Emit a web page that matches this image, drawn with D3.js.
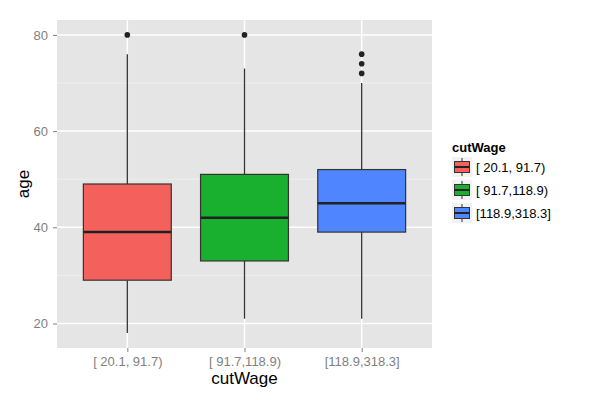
<!DOCTYPE html>
<html>
<head>
<meta charset="utf-8">
<script src="https://cdn.jsdelivr.net/npm/d3@7"></script>
<style>
  body { margin: 0; background: #fff; }
  svg { font-family: "Liberation Sans", Arial, sans-serif; }
</style>
</head>
<body>
<div id="chart"></div>
<script>
// values
const categories = ['[ 20.1, 91.7)', '[ 91.7,118.9)', '[118.9,318.3]'];
const whiskerLow = [18, 21, 21];
const q1 = [29, 33, 39];
const median = [39, 42, 45];
const q3 = [49, 51, 52];
const whiskerHigh = [76, 73, 70];
const outliers = [[80], [80], [72, 74, 76]];
const yTicks = [20, 40, 60, 80];
const yMinor = [30, 50, 70];
const colors = ['#F4605B', '#19B030', '#4F86FF'];

const width = 600, height = 400;
const panel = { left: 57, right: 432, top: 20, bottom: 348 };

const svg = d3.select('#chart')
  .append('svg')
  .attr('width', width)
  .attr('height', height);

const x = d3.scalePoint()
  .domain(categories)
  .range([panel.left, panel.right])
  .padding(0.6);

const y = d3.scaleLinear()
  .domain([14.9, 83.1])
  .range([panel.bottom, panel.top]);

const boxW = x.step() * 0.75;

// panel background + grid
svg.append('rect')
  .attr('x', panel.left).attr('y', panel.top)
  .attr('width', panel.right - panel.left)
  .attr('height', panel.bottom - panel.top)
  .attr('fill', '#E5E5E5');

svg.selectAll('.minor').data(yMinor).enter().append('line')
  .attr('x1', panel.left).attr('x2', panel.right)
  .attr('y1', d => y(d)).attr('y2', d => y(d))
  .attr('stroke', '#F2F2F2').attr('stroke-width', 0.8);

svg.selectAll('.major-y').data(yTicks).enter().append('line')
  .attr('x1', panel.left).attr('x2', panel.right)
  .attr('y1', d => y(d)).attr('y2', d => y(d))
  .attr('stroke', '#fff').attr('stroke-width', 1.5);

svg.selectAll('.major-x').data(categories).enter().append('line')
  .attr('x1', d => x(d)).attr('x2', d => x(d))
  .attr('y1', panel.top).attr('y2', panel.bottom)
  .attr('stroke', '#fff').attr('stroke-width', 1.5);

// axes
const yAxis = svg.append('g')
  .attr('transform', `translate(${panel.left},0)`)
  .call(d3.axisLeft(y).tickValues(yTicks).tickSize(4).tickPadding(5));
const xAxis = svg.append('g')
  .attr('transform', `translate(0,${panel.bottom})`)
  .call(d3.axisBottom(x).tickSize(4).tickPadding(5));

[yAxis, xAxis].forEach(g => {
  g.select('.domain').remove();
  g.selectAll('.tick line').attr('stroke', '#7F7F7F');
  g.selectAll('.tick text')
    .attr('fill', '#7F7F7F')
    .style('font-size', '13px');
});

// boxes
const boxes = svg.selectAll('.box').data(categories).enter()
  .append('g').attr('class', 'box');

boxes.append('line')
  .attr('x1', d => x(d)).attr('x2', d => x(d))
  .attr('y1', (d, i) => y(whiskerHigh[i]))
  .attr('y2', (d, i) => y(q3[i]))
  .attr('stroke', '#333').attr('stroke-width', 1.3);

boxes.append('line')
  .attr('x1', d => x(d)).attr('x2', d => x(d))
  .attr('y1', (d, i) => y(q1[i]))
  .attr('y2', (d, i) => y(whiskerLow[i]))
  .attr('stroke', '#333').attr('stroke-width', 1.3);

boxes.append('rect')
  .attr('x', d => x(d) - boxW / 2)
  .attr('width', boxW)
  .attr('y', (d, i) => y(q3[i]))
  .attr('height', (d, i) => y(q1[i]) - y(q3[i]))
  .attr('fill', (d, i) => colors[i])
  .attr('stroke', '#333').attr('stroke-width', 1.2);

boxes.append('line')
  .attr('x1', d => x(d) - boxW / 2).attr('x2', d => x(d) + boxW / 2)
  .attr('y1', (d, i) => y(median[i]))
  .attr('y2', (d, i) => y(median[i]))
  .attr('stroke', '#222').attr('stroke-width', 2.5);

boxes.each(function (d, i) {
  d3.select(this).selectAll('circle').data(outliers[i]).enter()
    .append('circle')
    .attr('cx', x(d))
    .attr('cy', v => y(v))
    .attr('r', 2.8)
    .attr('fill', '#222');
});

// axis titles
svg.append('text')
  .attr('x', (panel.left + panel.right) / 2)
  .attr('y', 384)
  .attr('text-anchor', 'middle')
  .style('font-size', '17px')
  .text('cutWage');

svg.append('text')
  .attr('transform', `translate(29,${(panel.top + panel.bottom) / 2}) rotate(-90)`)
  .attr('text-anchor', 'middle')
  .style('font-size', '17px')
  .text('age');

// legend
const legend = svg.append('g').attr('transform', 'translate(452,0)');
legend.append('text')
  .attr('x', 0).attr('y', 152)
  .style('font-size', '13px')
  .style('font-weight', 'bold')
  .text('cutWage');

const keyY = d3.scalePoint().domain(categories).range([157, 203]);
const keys = legend.selectAll('.key').data(categories).enter()
  .append('g')
  .attr('transform', d => `translate(0,${keyY(d)})`);

keys.append('rect')
  .attr('width', 20).attr('height', 20)
  .attr('fill', '#F2F2F2');
keys.append('line')
  .attr('x1', 10).attr('x2', 10).attr('y1', 1).attr('y2', 19)
  .attr('stroke', '#333');
keys.append('rect')
  .attr('x', 2.5).attr('y', 4.5).attr('width', 15).attr('height', 11)
  .attr('fill', (d, i) => colors[i])
  .attr('stroke', '#333');
keys.append('line')
  .attr('x1', 2.5).attr('x2', 17.5).attr('y1', 10).attr('y2', 10)
  .attr('stroke', '#222').attr('stroke-width', 2);
keys.append('text')
  .attr('x', 24).attr('y', 15)
  .style('font-size', '13px')
  .text(d => d);
</script>
</body>
</html>
